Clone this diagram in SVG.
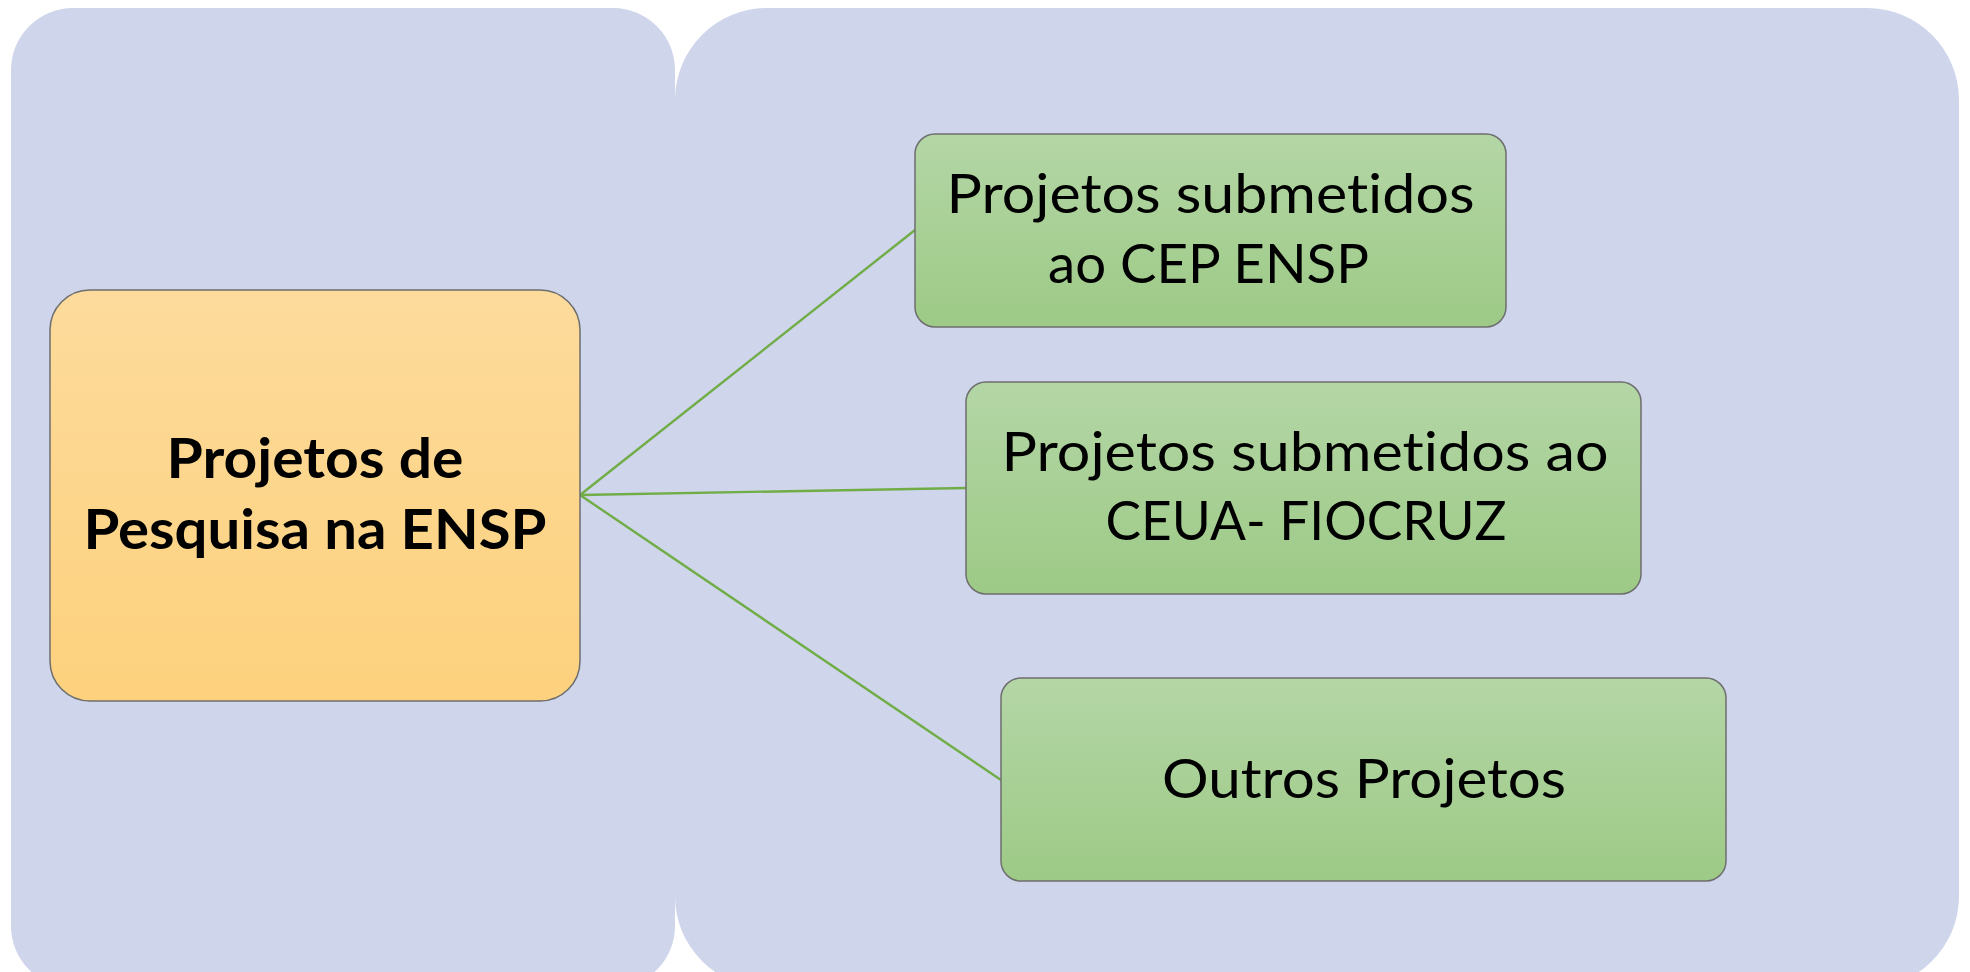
<svg xmlns="http://www.w3.org/2000/svg" width="1970" height="972" viewBox="0 0 1970 972">
  <defs>
    <linearGradient id="gOrange" x1="0" y1="0" x2="0" y2="1">
      <stop offset="0" stop-color="#FDDB9C"/>
      <stop offset="1" stop-color="#FDD17D"/>
    </linearGradient>
    <linearGradient id="gGreen" x1="0" y1="0" x2="0" y2="1">
      <stop offset="0" stop-color="#B4D6A6"/>
      <stop offset="1" stop-color="#9DCA86"/>
    </linearGradient>
    <style>
      .panel { fill: #CFD5EA; }
      .root { fill: url(#gOrange); stroke: #6E6E6E; stroke-width: 1.5; }
      .leaf { fill: url(#gGreen); stroke: #6E6E6E; stroke-width: 1.5; }
      .conn { stroke: #70AD47; stroke-width: 2.4; fill: none; }
      .tb { font-family: Lato, "Noto Sans", "Liberation Sans", sans-serif; font-weight: 700; font-size: 56px; fill: #000; text-anchor: middle; font-variant-ligatures: none; }
      .tr { font-family: Lato, "Noto Sans", "Liberation Sans", sans-serif; font-weight: 400; font-size: 54px; fill: #000; text-anchor: middle; font-variant-ligatures: none; }
    </style>
  </defs>

  <rect width="1970" height="972" fill="#FFFFFF"/>

  <g id="background">
    <rect class="panel" x="11" y="8" width="664" height="980" rx="62" ry="62"/>
    <rect class="panel" x="675" y="8" width="1284" height="980" rx="92" ry="92"/>
  </g>

  <g id="connectors">
    <line class="conn" x1="580" y1="495" x2="915" y2="230"/>
    <line class="conn" x1="580" y1="495" x2="966" y2="488"/>
    <line class="conn" x1="580" y1="495" x2="1001" y2="780"/>
  </g>

  <g id="node-root">
    <rect class="root" x="50" y="290" width="530" height="411" rx="40" ry="40"/>
    <text class="tb" x="315" y="478" textLength="297" lengthAdjust="spacingAndGlyphs">Projetos de</text>
    <text class="tb" x="315" y="549" textLength="463" lengthAdjust="spacingAndGlyphs">Pesquisa na ENSP</text>
  </g>

  <g id="node-cep">
    <rect class="leaf" x="915" y="134" width="591" height="193" rx="20" ry="20"/>
    <text class="tr" x="1210.5" y="213" textLength="528" lengthAdjust="spacingAndGlyphs">Projetos submetidos</text>
    <text class="tr" x="1208.5" y="283" textLength="321" lengthAdjust="spacingAndGlyphs">ao CEP ENSP</text>
  </g>

  <g id="node-ceua">
    <rect class="leaf" x="966" y="382" width="675" height="212" rx="20" ry="20"/>
    <text class="tr" x="1305" y="471" textLength="607" lengthAdjust="spacingAndGlyphs">Projetos submetidos ao</text>
    <text class="tr" x="1306" y="540" textLength="401" lengthAdjust="spacingAndGlyphs">CEUA- FIOCRUZ</text>
  </g>

  <g id="node-outros">
    <rect class="leaf" x="1001" y="678" width="725" height="203" rx="20" ry="20"/>
    <text class="tr" x="1364" y="798" textLength="404" lengthAdjust="spacingAndGlyphs">Outros Projetos</text>
  </g>
</svg>
